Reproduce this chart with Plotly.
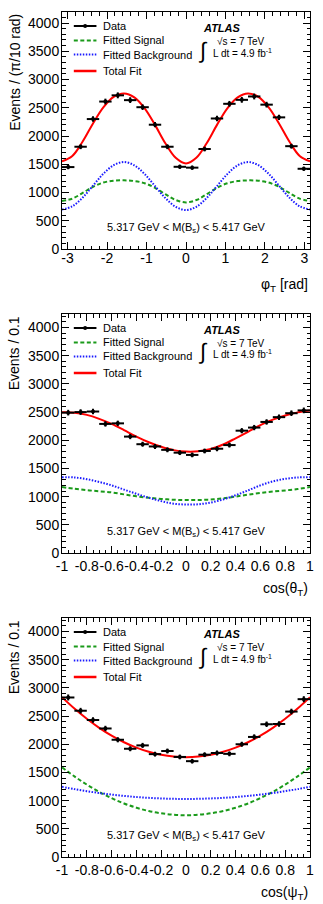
import numpy as np
import plotly.graph_objects as go

# ---------------- data ----------------
# Panel 1 : phi_T  (20 bins of pi/10 over [-pi, pi])
phi_data = [1450, 1810, 2300, 2610, 2720, 2635, 2510, 2200, 1810, 1455,
            1440, 1770, 2310, 2570, 2640, 2700, 2555, 2330, 1820, 1420]
phi_curve_deg = [-180, -165, -150, -135, -120, -105, -90, -75, -60, -45, -30, -15, 0,
                 15, 30, 45, 60, 75, 90, 105, 120, 135, 150, 165, 180]
phi_total = [1550, 1647, 1902, 2222, 2507, 2693, 2754, 2684, 2490, 2197, 1872, 1614, 1515,
             1614, 1872, 2197, 2490, 2684, 2754, 2693, 2507, 2222, 1902, 1647, 1550]
phi_signal = [850, 891, 992, 1101, 1176, 1209, 1215, 1203, 1164, 1083, 970, 867, 825,
              867, 970, 1083, 1164, 1203, 1215, 1209, 1176, 1101, 992, 891, 850]
phi_bkg = [700, 756, 910, 1121, 1331, 1484, 1539, 1481, 1326, 1114, 902, 747, 690,
           747, 902, 1114, 1326, 1481, 1539, 1484, 1331, 1121, 910, 756, 700]

# Panel 2 : cos(theta_T)
cos_centers = [-0.95, -0.85, -0.75, -0.65, -0.55, -0.45, -0.35, -0.25, -0.15, -0.05,
               0.05, 0.15, 0.25, 0.35, 0.45, 0.55, 0.65, 0.75, 0.85, 0.95]
theta_data = [2490, 2500, 2510, 2290, 2300, 2065, 1930, 1890, 1830, 1780,
              1740, 1810, 1850, 1915, 2170, 2225, 2325, 2410, 2480, 2530]
cos_curve_x = [-1.0, -0.9, -0.8, -0.7, -0.6, -0.5, -0.4, -0.3, -0.2, -0.1, 0.0,
               0.1, 0.2, 0.3, 0.4, 0.5, 0.6, 0.7, 0.8, 0.9, 1.0]
theta_total = [2495, 2490, 2450, 2380, 2290, 2180, 2065, 1965, 1885, 1825, 1800,
               1805, 1845, 1925, 2035, 2150, 2270, 2365, 2440, 2495, 2530]
theta_signal = [1170, 1140, 1115, 1095, 1075, 1040, 1005, 980, 960, 945, 940,
                940, 950, 970, 1000, 1035, 1065, 1090, 1110, 1135, 1170]
theta_bkg = [1345, 1340, 1310, 1260, 1200, 1125, 1050, 980, 920, 875, 860,
             865, 895, 950, 1025, 1110, 1200, 1270, 1315, 1340, 1345]

# Panel 3 : cos(psi_T)
psi_data = [2830, 2595, 2430, 2280, 2080, 1920, 1980, 1825, 1880, 1775,
            1700, 1815, 1845, 1830, 2000, 2130, 2355, 2360, 2580, 2800]
psi_total = [2835, 2633, 2452, 2292, 2153, 2036, 1940, 1866, 1813, 1781, 1770,
             1781, 1813, 1866, 1940, 2036, 2153, 2292, 2452, 2633, 2835]
psi_signal = [1590, 1430, 1285, 1155, 1045, 950, 875, 815, 775, 750, 740,
              750, 775, 815, 875, 950, 1045, 1155, 1285, 1430, 1590]
psi_bkg = [1245, 1204, 1168, 1135, 1107, 1084, 1064, 1049, 1039, 1032, 1030,
           1032, 1039, 1049, 1064, 1084, 1107, 1135, 1168, 1204, 1245]

# tick labels
phi_tickvals = [-3, -2, -1, 0, 1, 2, 3]
phi_ticktext = ["-3", "-2", "-1", "0", "1", "2", "3"]
cos_tickvals = [-1, -0.8, -0.6, -0.4, -0.2, 0, 0.2, 0.4, 0.6, 0.8, 1]
cos_ticktext = ["-1", "-0.8", "-0.6", "-0.4", "-0.2", "0", "0.2", "0.4", "0.6", "0.8", "1"]
y_tickvals = [0, 500, 1000, 1500, 2000, 2500, 3000, 3500, 4000]
y_ticktext = ["0", "500", "1000", "1500", "2000", "2500", "3000", "3500", "4000"]

legend_labels = ["Data", "Fitted Signal", "Fitted Background", "Total Fit"]
x_titles = ["φ<sub>T</sub> [rad]", "cos(θ<sub>T</sub>)", "cos(ψ<sub>T</sub>)"]
y_titles = ["Events / (π/10 rad)", "Events / 0.1", "Events / 0.1"]
mass_label = "5.317 GeV < M(B<sub>s</sub>) < 5.417 GeV"

# ---------------- layout geometry ----------------
W, H = 323, 904
ML, MR, MT, MB = 62, 9, 12, 47
PH = H - MT - MB
domains = [[(857 - 249) / PH, 1.0], [(857 - 553) / PH, (857 - 314) / PH], [0.0, (857 - 618) / PH]]
yranges = [[0, 4195], [0, 4240], [0, 4240]]
x_standoff = [-4, 0, 0]

FONT = "Liberation Sans, Arial, Helvetica, sans-serif"
RED = "#ff0000"
GREEN = "#1a9a1a"
BLUE = "#1a1aff"

fig = go.Figure()

phi_x = list(np.deg2rad(phi_curve_deg))
phi_edges = np.linspace(-np.pi, np.pi, 21)
phi_centers = list(0.5 * (phi_edges[:-1] + phi_edges[1:]))
phi_half = np.pi / 20

panels = [
    dict(xc=phi_centers, data=phi_data, half=phi_half, cx=phi_x,
         tot=phi_total, sig=phi_signal, bkg=phi_bkg),
    dict(xc=cos_centers, data=theta_data, half=0.05, cx=cos_curve_x,
         tot=theta_total, sig=theta_signal, bkg=theta_bkg),
    dict(xc=cos_centers, data=psi_data, half=0.05, cx=cos_curve_x,
         tot=psi_total, sig=psi_signal, bkg=psi_bkg),
]

for i, p in enumerate(panels):
    xa = "x" if i == 0 else f"x{i+1}"
    ya = "y" if i == 0 else f"y{i+1}"
    fig.add_trace(go.Scatter(x=p["cx"], y=p["sig"], mode="lines", xaxis=xa, yaxis=ya,
                             line=dict(color=GREEN, width=2, dash="4px,2.5px", shape="spline"),
                             showlegend=False, hoverinfo="skip"))
    fig.add_trace(go.Scatter(x=p["cx"], y=p["bkg"], mode="lines", xaxis=xa, yaxis=ya,
                             line=dict(color=BLUE, width=2, dash="1.5px,1.5px", shape="spline"),
                             showlegend=False, hoverinfo="skip"))
    fig.add_trace(go.Scatter(x=p["cx"], y=p["tot"], mode="lines", xaxis=xa, yaxis=ya,
                             line=dict(color=RED, width=2, shape="spline"),
                             showlegend=False, hoverinfo="skip"))
    err = list(np.sqrt(np.array(p["data"], dtype=float)))
    fig.add_trace(go.Scatter(x=p["xc"], y=p["data"], mode="markers", xaxis=xa, yaxis=ya,
                             marker=dict(color="black", size=4),
                             error_x=dict(type="data", array=[p["half"]] * len(p["data"]),
                                          thickness=2, width=0, color="black"),
                             error_y=dict(type="data", array=err, thickness=2, width=0,
                                          color="black"),
                             showlegend=False))

axis_common = dict(showline=True, linecolor="black", linewidth=1, mirror="allticks",
                   ticks="inside", ticklen=7, tickwidth=1, tickcolor="black",
                   showgrid=False, zeroline=False, tickangle=0,
                   tickfont=dict(family=FONT, size=14, color="black"))

layout = dict(width=W, height=H, margin=dict(l=ML, r=MR, t=MT, b=MB),
              plot_bgcolor="white", paper_bgcolor="white", showlegend=False,
              font=dict(family=FONT, color="black"))

annotations = []
shapes = []
for i in range(3):
    xk = "xaxis" if i == 0 else f"xaxis{i+1}"
    yk = "yaxis" if i == 0 else f"yaxis{i+1}"
    xref = "x" if i == 0 else f"x{i+1}"
    yref = "y" if i == 0 else f"y{i+1}"
    if i == 0:
        xa = dict(axis_common, range=[-np.pi, np.pi], tickmode="array",
                  tickvals=phi_tickvals, ticktext=phi_ticktext,
                  minor=dict(ticks="inside", ticklen=3.5, tickcolor="black", tick0=0, dtick=0.2))
    else:
        xa = dict(axis_common, range=[-1, 1], tickmode="array",
                  tickvals=cos_tickvals, ticktext=cos_ticktext,
                  minor=dict(ticks="inside", ticklen=3.5, tickcolor="black", tick0=0, dtick=0.05))
    xa.update(domain=[0, 1], anchor=yref, ticklabelstandoff=x_standoff[i])
    ya = dict(axis_common, range=yranges[i], tickmode="array", tickvals=y_tickvals,
              ticktext=y_ticktext, domain=domains[i], anchor=xref, ticklabelstandoff=-1,
              minor=dict(ticks="inside", ticklen=3.5, tickcolor="black", tick0=0, dtick=100))
    layout[xk] = xa
    layout[yk] = ya

    hpx = (domains[i][1] - domains[i][0]) * PH
    def fy(off):
        return 1 - off / hpx
    xd = f"{xref} domain"
    yd = f"{yref} domain"

    # axis titles
    annotations.append(dict(text=y_titles[i], xref="paper", x=(13.5 - ML) / (W - ML - MR),
                            xanchor="center", yref=yd, y=1, yanchor="top", textangle=-90,
                            showarrow=False, font=dict(size=14, family=FONT)))
    annotations.append(dict(text=x_titles[i], xref=xd, x=1.0, xanchor="right",
                            yref=yd, y=0, yanchor="top", yshift=-25, showarrow=False,
                            font=dict(size=14, family=FONT)))
    # mass label
    annotations.append(dict(text=mass_label, xref=xd, x=0.5, xanchor="center",
                            yref=yd, y=fy(hpx - 21), yanchor="middle", showarrow=False,
                            font=dict(size=11, family=FONT)))
    # legend
    offs = [14, 28.5, 42.5, 59]
    x0, x1, xt = 12 / 252, 35 / 252, 40 / 252
    styles = [dict(color="black", width=2), dict(color=GREEN, width=2, dash="4px,2.5px"),
              dict(color=BLUE, width=2, dash="1.5px,1.5px"), dict(color=RED, width=2.5)]
    for k in range(4):
        shapes.append(dict(type="line", xref=xd, yref=yd, x0=x0, x1=x1,
                           y0=fy(offs[k]), y1=fy(offs[k]), line=styles[k]))
        annotations.append(dict(text=legend_labels[k], xref=xd, x=xt, xanchor="left",
                                yref=yd, y=fy(offs[k]), yanchor="middle", showarrow=False,
                                font=dict(size=11, family=FONT)))
    shapes.append(dict(type="circle", xref=xd, yref=yd, xsizemode="pixel", ysizemode="pixel",
                       xanchor=(x0 + x1) / 2, yanchor=fy(offs[0]), x0=-2, x1=2, y0=-2, y1=2,
                       fillcolor="black", line=dict(width=0)))
    # ATLAS label
    annotations.append(dict(text="<b><i>ATLAS</i></b>", xref=xd, x=(203 - ML) / 252,
                            xanchor="left", yref=yd, y=fy(16), yanchor="middle",
                            showarrow=False, font=dict(size=11, family=FONT)))
    annotations.append(dict(text="√s = 7 TeV", xref=xd, x=(217 - ML) / 252,
                            xanchor="left", yref=yd, y=fy(29.5), yanchor="middle",
                            showarrow=False, font=dict(size=10, family=FONT)))
    annotations.append(dict(text="L dt = 4.9 fb<sup>-1</sup>", xref=xd, x=(213 - ML) / 252,
                            xanchor="left", yref=yd, y=fy(40.5), yanchor="middle",
                            showarrow=False, font=dict(size=10, family=FONT)))
    annotations.append(dict(text="∫", xref=xd, x=(205 - ML) / 252,
                            xanchor="center", yref=yd, y=fy(38), yanchor="middle",
                            showarrow=False, font=dict(size=22, family=FONT)))

layout["annotations"] = annotations
layout["shapes"] = shapes
fig.update_layout(**layout)
fig.write_html("out.html")
